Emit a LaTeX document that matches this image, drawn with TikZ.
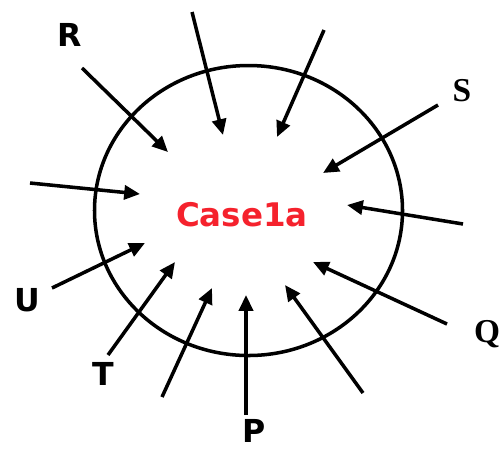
\documentclass[tikz,border=0pt]{standalone}
\usepackage{fontspec}
\usepackage{xcolor}
\usepackage{tikz}
\usetikzlibrary{positioning,arrows.meta}
\newfontfamily\sansbold{DejaVu Sans}[BoldFont={DejaVu Sans Bold}]
\newfontfamily\serifbold{Liberation Serif}
\definecolor{casered}{HTML}{F5222D}

\begin{document}
\begin{tikzpicture}[x=0.02cm, y=-0.02cm,
  arr/.style={-{Triangle[length=9pt, width=8pt]}, line width=2pt},
  lab/.style={font=\sansbold\bfseries\fontsize{18}{20}\selectfont, inner sep=0pt},
  slab/.style={font=\serifbold\bfseries\fontsize{19}{21}\selectfont, inner sep=0pt}]
\useasboundingbox (0,0) rectangle (499,451);
\draw[line width=2pt] (248.5,210.5) ellipse [x radius=154, y radius=145];
\node[text=casered, font=\sansbold\bfseries\fontsize{18.5}{20}\selectfont] (case) at (242,215) {Case1a};
% labels
\node[lab] (labR) at (70,35) {R};
\node[slab] (labS) at (462,91) {S};
\node[slab] (labQ) at (487,334) {Q};
\node[lab] (labP) at (254,431) {P};
\node[lab] (labT) at (103,374) {T};
\node[lab] (labU) at (27,300) {U};
% arrow ends
\coordinate (t1) at (82,68);   \coordinate (h1) at (168,152);
\coordinate (t2) at (192,12);  \coordinate (h2) at (223,135);
\coordinate (t3) at (30,183);  \coordinate (h3) at (140,194);
\coordinate (t4) at (324,30);  \coordinate (h4) at (277,137);
\coordinate (t5) at (438,105); \coordinate (h5) at (323,173);
\coordinate (t6) at (463,224); \coordinate (h6) at (347,205);
\coordinate (t7) at (52,288);  \coordinate (h7) at (145,243);
\coordinate (t8) at (108,355); \coordinate (h8) at (175,262);
\coordinate (t9) at (162,397); \coordinate (h9) at (212,288);
\coordinate (t10) at (246,415); \coordinate (h10) at (246,295);
\coordinate (t11) at (363,393); \coordinate (h11) at (285,285);
\coordinate (t12) at (447,324); \coordinate (h12) at (313,262);
\foreach \i in {1,...,12}
  \draw[arr] (t\i) -- (h\i);
\end{tikzpicture}
\end{document}
